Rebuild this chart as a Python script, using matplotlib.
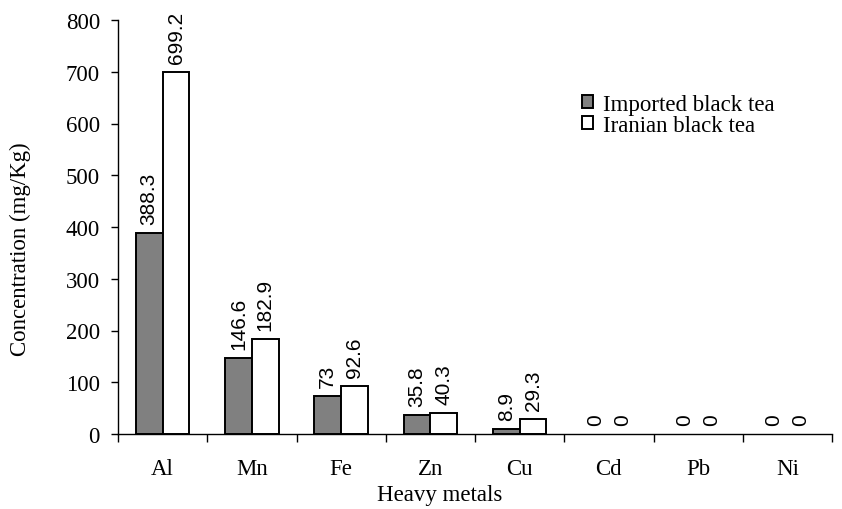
import matplotlib
matplotlib.use("Agg")
import matplotlib.pyplot as plt
import numpy as np
from matplotlib.patches import Patch

categories = ["Al", "Mn", "Fe", "Zn", "Cu", "Cd", "Pb", "Ni"]
imported = [388.3, 146.6, 73, 35.8, 8.9, 0, 0, 0]
iranian = [699.2, 182.9, 92.6, 40.3, 29.3, 0, 0, 0]
imported_labels = ["388.3", "146.6", "73", "35.8", "8.9", "0", "0", "0"]
iranian_labels = ["699.2", "182.9", "92.6", "40.3", "29.3", "0", "0", "0"]
yticks = [0, 100, 200, 300, 400, 500, 600, 700, 800]

serif = ["Liberation Serif", "DejaVu Serif"]
sans = ["Liberation Sans", "DejaVu Sans"]

fig = plt.figure(figsize=(8.42, 5.10), dpi=100)
ax = fig.add_axes([118/842, 1-435/510, (832-118)/842, (435-21)/510])

x = np.arange(len(categories))
w = 0.3
lw_imp = [1.4 if v > 0 else 0 for v in imported]
lw_ira = [1.4 if v > 0 else 0 for v in iranian]
ax.bar(x - w/2, imported, w, color="#808080", edgecolor="black", linewidth=lw_imp)
ax.bar(x + w/2, iranian, w, color="white", edgecolor="black", linewidth=lw_ira)

for xs, vals, labs in ((x - w/2, imported, imported_labels), (x + w/2, iranian, iranian_labels)):
    for xi, v, t in zip(xs, vals, labs):
        ax.annotate(t, (xi, v), xytext=(0, 6.5), textcoords="offset points", rotation=90,
                    ha="center", va="bottom", fontsize=15, family=sans)

ax.set_xlim(-0.5, len(categories) - 0.5)
ax.set_ylim(0, 800)
ax.set_yticks(yticks)
ax.set_yticklabels([str(v) for v in yticks], fontsize=16.5, family=serif)
ax.set_xticks(x)
ax.set_xticklabels(categories, fontsize=16.5, family=serif)
ax.set_xticks(np.arange(-0.5, len(categories)), minor=True)
ax.tick_params(axis="x", which="major", length=0, pad=17)
ax.tick_params(axis="x", which="minor", length=6, direction="out", width=1)
ax.tick_params(axis="y", length=5, direction="out", width=1, pad=8)

for s in ["top", "right"]:
    ax.spines[s].set_visible(False)
for s in ["left", "bottom"]:
    ax.spines[s].set_linewidth(1)

ax.set_ylabel("Concentration (mg/Kg)", fontsize=16.5, family=serif)
ax.yaxis.set_label_coords((31-118)/714, (435-249)/414)
ax.set_xlabel("Heavy metals", fontsize=16.5, family=serif)
ax.xaxis.set_label_coords((440-118)/714, (435-485)/414)

handles = [Patch(facecolor="#808080", edgecolor="black", linewidth=1.4),
           Patch(facecolor="white", edgecolor="black", linewidth=1.4)]
leg = ax.legend(handles, ["Imported black tea", "Iranian black tea"],
                loc="upper left", bbox_to_anchor=(582/842, 1-95/510), bbox_transform=fig.transFigure,
                frameon=False, prop={"family": serif, "size": 16.5},
                handlelength=0.5, handleheight=0.5, handletextpad=0.4, labelspacing=0.0,
                borderpad=0, borderaxespad=0)

fig.savefig("out.png", dpi=100)
